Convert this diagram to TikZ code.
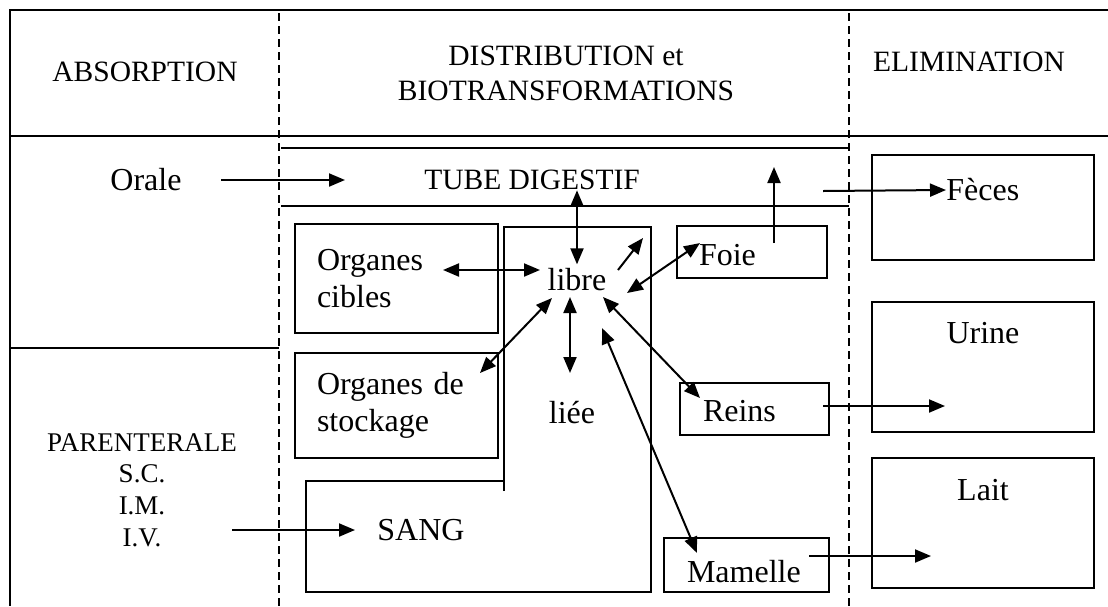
\documentclass[tikz,border=0pt]{standalone}
\usepackage{fontspec}
\setmainfont{Liberation Serif}
\usetikzlibrary{arrows.meta,positioning}
\tikzset{
  fleche/.style={line width=1pt,-{Triangle[length=8pt,width=6.5pt]}},
  fleches/.style={line width=1pt,{Triangle[length=8pt,width=6.5pt]}-{Triangle[length=8pt,width=6.5pt]}},
  cadre/.style={line width=1.4pt},
  pointille/.style={line width=1pt,dash pattern=on 4pt off 2.5pt},
  texte/.style={font=\fontsize{16}{18.5}\selectfont,inner sep=0pt},
  titre/.style={font=\fontsize{14.75}{17.5}\selectfont,align=center,inner sep=0pt},
  voie/.style={font=\fontsize{13.5}{15.8}\selectfont,align=center,inner sep=0pt},
  boite/.style={draw,line width=1.3pt,font=\fontsize{16}{18.5}\selectfont,align=left,inner xsep=11pt,inner ysep=0pt}
}
\begin{document}
\begin{tikzpicture}[x=0.5pt,y=-0.5pt]
	\useasboundingbox (0,0) rectangle (1108,606);
	\draw[cadre] (1108,10) -- (10,10) -- (10,606);
	\draw[cadre] (10,136) -- (1108,136);
	\draw[cadre] (10,348) -- (279,348);
	\draw[pointille] (279,13) -- (279,606);
	\draw[pointille] (849,13) -- (849,606);
	\draw[cadre] (281,148) -- (849,148);
	\draw[cadre] (281,206) -- (849,206);
	\draw[cadre] (504,491) -- (504,227) -- (651,227) -- (651,592) -- (306,592) -- (306,481) -- (504,481);

	\node (absorption)[titre] at (145,72) {ABSORPTION};
	\node (distribution)[titre] at (566,73) {DISTRIBUTION et\\BIOTRANSFORMATIONS};
	\node (elimination)[titre] at (969,62) {ELIMINATION};
	\node (orale)[texte] at (146,180) {Orale};
	\node (parenterale)[voie] at (142,490) {PARENTERALE\\S.C.\\I.M.\\I.V.};
	\node (tube)[titre] at (532,180) {TUBE DIGESTIF};

	\node (cibles)[boite,text width=79.5pt,minimum width=101.5pt,minimum height=54.5pt] at (396.5,278.5) {Organes\\cibles};
	\node (stockage)[boite,text width=79.5pt,minimum width=101.5pt,minimum height=52.5pt] at (396.5,405.5) {Organes de\\stockage};
	\node (libre)[texte] at (577,280) {libre};
	\node (liee)[texte] at (572,413) {liée};
	\node (sang)[texte] at (421,530) {SANG};
	\node (foie)[boite,text width=53pt,text height=14pt,minimum width=74pt,minimum height=26pt] at (752,252) {Foie};
	\node (reins)[boite,text width=51.5pt,text height=13pt,minimum width=74.5pt,minimum height=26pt] at (754.5,409) {Reins};
	\node (mamelle)[boite,text width=59.5pt,text height=18pt,minimum width=82.5pt,minimum height=27pt] at (746.5,565) {Mamelle};

	\node (fecesb)[boite,minimum width=111pt,minimum height=52.5pt] at (983,207.5) {};
	\node (urineb)[boite,minimum width=111pt,minimum height=65pt] at (983,367) {};
	\node (laitb)[boite,minimum width=111pt,minimum height=65pt] at (983,523) {};
	\node (feces)[texte,anchor=west] at (946,190) {Fèces};
	\node (urine)[texte] at (983,333) {Urine};
	\node (lait)[texte] at (983,490) {Lait};

	\coordinate (oraleA) at (221,180);
	\coordinate (oraleB) at (345,180);
	\coordinate (sangA) at (232,530);
	\coordinate (sangB) at (355,530);
	\coordinate (ciblesA) at (443,270);
	\coordinate (ciblesB) at (540,270);
	\coordinate (stockA) at (480,373);
	\coordinate (stockB) at (552,298);
	\coordinate (lieeA) at (570,297);
	\coordinate (lieeB) at (570,373);
	\coordinate (haut1) at (618,270);
	\coordinate (haut2) at (643,238);
	\coordinate (foieA) at (627,293);
	\coordinate (foieB) at (700,243);
	\coordinate (reinsA) at (603,297);
	\coordinate (reinsB) at (700,398);
	\coordinate (mamA) at (602,328);
	\coordinate (mamB) at (697,553);
	\coordinate (foieC) at (774,243);
	\coordinate (foieD) at (774,167);
	\coordinate (fecesA) at (823,191);
	\coordinate (urineA) at (823,406);
	\coordinate (urineB) at (945,406);
	\coordinate (laitA) at (809,556);
	\coordinate (laitB) at (931,556);

	\draw[fleche] (oraleA) -- (oraleB);
	\draw[fleche] (sangA) -- (sangB);
	\draw[fleches] ([yshift=2pt]libre.north) -- (libre.north |- tube.south);
	\draw[fleches] (ciblesA) -- (ciblesB);
	\draw[fleches] (stockA) -- (stockB);
	\draw[fleches] (lieeA) -- (lieeB);
	\draw[fleche] (haut1) -- (haut2);
	\draw[fleches] (foieA) -- (foieB);
	\draw[fleches] (reinsA) -- (reinsB);
	\draw[fleches] (mamA) -- (mamB);
	\draw[fleche] (foieC) -- (foieD);
	\draw[fleche] (fecesA) -- (feces.west);
	\draw[fleche] (urineA) -- (urineB);
	\draw[fleche] (laitA) -- (laitB);
\end{tikzpicture}
\end{document}
